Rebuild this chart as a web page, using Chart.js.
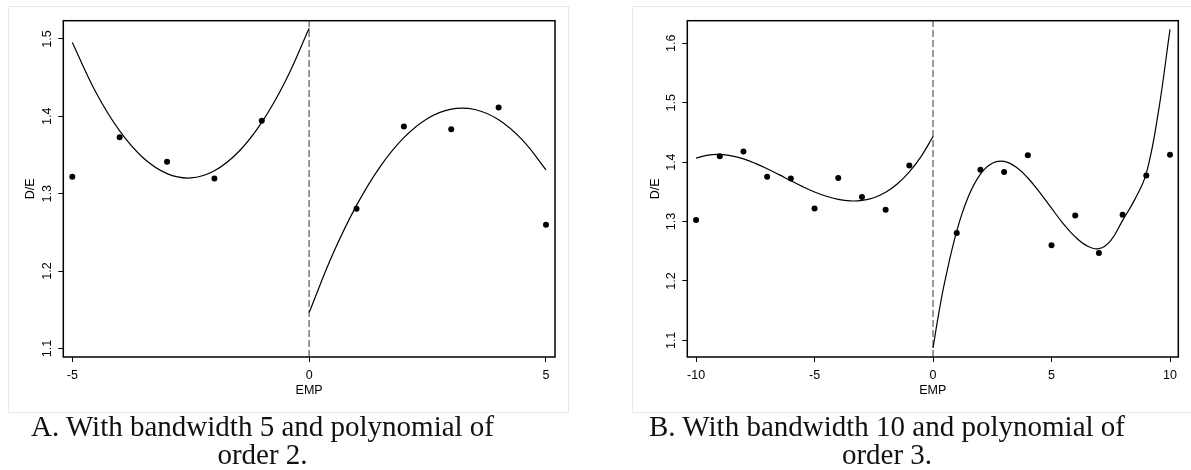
<!DOCTYPE html>
<html>
<head>
<meta charset="utf-8">
<script src="https://cdn.jsdelivr.net/npm/chart.js@4.4.0/dist/chart.umd.min.js"></script>
<style>
  body { margin: 0; background: #fff; width: 1191px; height: 470px; overflow: hidden; position: relative; }
  .frame { position: absolute; top: 6px; height: 407px; box-sizing: border-box; border: 1px solid #e3ecec; }
  .chart { position: absolute; top: 6px; }
  .caption { position: absolute; top: 413px; width: 600px; text-align: center;
    font-family: "Liberation Serif", "Times New Roman", serif; font-size: 29px; line-height: 27.6px; color: #111; }
</style>
</head>
<body>
<div class="frame" style="left:8px; width:561px;"></div>
<div class="frame" style="left:632px; width:570px;"></div>
<div class="chart" style="left:8px;"><canvas id="chartA" width="560" height="406"></canvas></div>
<div class="chart" style="left:633px;"><canvas id="chartB" width="558" height="406"></canvas></div>
<div class="caption" style="left:-37.5px;">A. With bandwidth 5 and polynomial of<br>order 2.</div>
<div class="caption" style="left:587px;">B. With bandwidth 10 and polynomial of<br>order 3.</div>
<script>
// binned means of D/E by EMP
const empBins = [-10, -9, -8, -7, -6, -5, -4, -3, -2, -1, 1, 2, 3, 4, 5, 6, 7, 8, 9, 10];
const deMeans = [1.3025, 1.410, 1.4178, 1.3753, 1.3725, 1.322, 1.3731, 1.3412, 1.3198, 1.3943,
                 1.2806, 1.387, 1.3834, 1.4115, 1.260, 1.3103, 1.247, 1.3114, 1.3775, 1.4123];

// panel A fitted curves (order 2)
const fitALeftX = [-5, -4.5, -4, -3.5, -3, -2.5, -2, -1.5, -1, -0.5, 0];
const fitALeftY = [1.4953, 1.4307, 1.3811, 1.3461, 1.3260, 1.3204, 1.3297, 1.3536, 1.3923, 1.4457, 1.5138];
const fitARightX = [0, 0.5, 1, 1.5, 2, 2.5, 3, 3.5, 4, 4.5, 5];
const fitARightY = [1.1465, 1.2220, 1.2849, 1.3351, 1.3725, 1.3973, 1.4094, 1.4088, 1.3955, 1.3695, 1.3308];

// panel B fitted curves (order 3)
const fitBLeftX = [-10, -9.5, -9, -8.5, -8, -7.5, -7, -6.5, -6, -5.5, -5, -4.5, -4, -3.5, -3, -2.5, -2, -1.5, -1, -0.5, 0];
const fitBLeftY = [1.4068, 1.4119, 1.4130, 1.4106, 1.4055, 1.3979, 1.3888, 1.3789, 1.3686, 1.3587, 1.3498,
                   1.3425, 1.3373, 1.3347, 1.3355, 1.3401, 1.3492, 1.3635, 1.3834, 1.4097, 1.4430];
const fitBRightX = [0, 0.25, 0.5, 1, 1.5, 2, 2.5, 3, 3.5, 4, 4.5, 5, 5.5, 6, 6.5, 7, 7.5, 8, 8.5, 9, 9.5, 10];
const fitBRightY = [1.0874, 1.1474, 1.1998, 1.2839, 1.3429, 1.3799, 1.3982, 1.4011, 1.3917, 1.3733, 1.3491,
                    1.3224, 1.2962, 1.2741, 1.2590, 1.2543, 1.2680, 1.3020, 1.3360, 1.3810, 1.4820, 1.6234];

// axes
const xTicksA = [-5, 0, 5];
const yTicksA = [1.1, 1.2, 1.3, 1.4, 1.5];
const xTicksB = [-10, -5, 0, 5, 10];
const yTicksB = [1.1, 1.2, 1.3, 1.4, 1.5, 1.6];
const cutoff = 0;

const sans = 'Liberation Sans, Arial, sans-serif';

function pairs(xs, ys) {
    return xs.map((x, i) => ({ x: x, y: ys[i] }));
}

const framePlugin = {
    id: 'frame',
    afterDraw(chart) {
        const a = chart.chartArea;
        const ctx = chart.ctx;
        ctx.save();
        ctx.strokeStyle = '#000';
        ctx.lineWidth = 1.5;
        ctx.strokeRect(a.left, a.top, a.right - a.left, a.bottom - a.top);
        ctx.restore();
    }
};

function makePanel(id, bw, xTicks, yTicks, xRange, yRange, fits, area) {
    const keep = empBins.map((x, i) => i).filter(i => Math.abs(empBins[i]) <= bw);
    const curve = (xs, ys) => ({
        data: pairs(xs, ys), showLine: true, pointRadius: 0, borderColor: '#000',
        borderWidth: 1.2, tension: 0.4
    });
    return new Chart(document.getElementById(id), {
        type: 'scatter',
        data: {
            datasets: [
                {
                    data: keep.map(i => ({ x: empBins[i], y: deMeans[i] })),
                    pointRadius: 3, pointBackgroundColor: '#000', pointBorderWidth: 0
                },
                curve(fits[0], fits[1]),
                curve(fits[2], fits[3]),
                {
                    data: [{ x: cutoff, y: yRange[0] }, { x: cutoff, y: yRange[1] }],
                    showLine: true, pointRadius: 0, borderColor: '#7a7a7a', borderWidth: 1.5,
                    borderDash: [7, 3]
                }
            ]
        },
        options: {
            responsive: false,
            animation: false,
            layout: { padding: { left: 0, top: area.top, right: area.right, bottom: 13.5 } },
            plugins: { legend: { display: false }, tooltip: { enabled: false } },
            scales: {
                x: {
                    type: 'linear', min: xRange[0], max: xRange[1],
                    afterBuildTicks: s => { s.ticks = xTicks.map(v => ({ value: v })); },
                    afterFit: s => { s.height = 41.5; },
                    border: { display: false },
                    grid: { drawOnChartArea: false, drawTicks: true, tickLength: 5, color: '#000', lineWidth: 1 },
                    ticks: { autoSkip: false, maxRotation: 0, minRotation: 0, padding: 6, color: '#000',
                             font: { family: sans, size: 12.5 }, callback: v => String(v) },
                    title: { display: true, text: 'EMP', color: '#000', font: { family: sans, size: 12.5 },
                             padding: { top: 0, bottom: 0 } }
                },
                y: {
                    type: 'linear', min: yRange[0], max: yRange[1],
                    afterBuildTicks: s => { s.ticks = yTicks.map(v => ({ value: v })); },
                    afterFit: s => { s.width = area.left; },
                    border: { display: false },
                    grid: { drawOnChartArea: false, drawTicks: true, tickLength: 5, color: '#000', lineWidth: 1 },
                    ticks: { autoSkip: false, minRotation: 90, maxRotation: 90, crossAlign: 'center', padding: 2,
                             color: '#000', font: { family: sans, size: 12.5 }, callback: v => v.toFixed(1) },
                    title: { display: true, text: 'D/E', color: '#000', font: { family: sans, size: 12.5 },
                             padding: { top: 15, bottom: 0 } }
                }
            }
        },
        plugins: [framePlugin]
    });
}

makePanel('chartA', 5, xTicksA, yTicksA, [-5.19, 5.19], [1.089, 1.5236],
    [fitALeftX, fitALeftY, fitARightX, fitARightY], { left: 55.3, top: 14.7, right: 13 });
makePanel('chartB', 10, xTicksB, yTicksB, [-10.37, 10.35], [1.072, 1.638],
    [fitBLeftX, fitBLeftY, fitBRightX, fitBRightY], { left: 54.3, top: 14.7, right: 12.7 });
</script>
</body>
</html>
